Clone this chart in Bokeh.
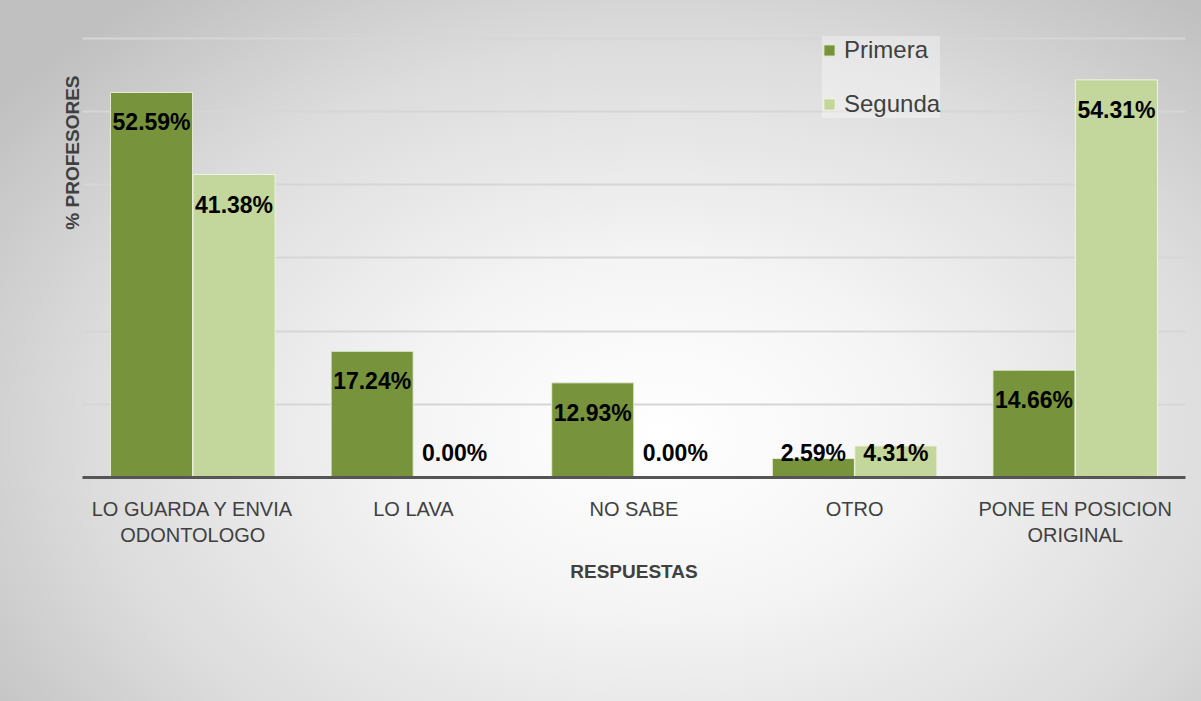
from bokeh.plotting import figure
from bokeh.models import (FactorRange, Range1d, SingleIntervalTicker, FixedTicker,
                          ColumnDataSource, Title)
from bokeh.transform import dodge
from bokeh.core.properties import value
from bokeh.embed import file_html
from bokeh.resources import INLINE

# ---- data ----
categories = ["LO GUARDA Y ENVIA\nODONTOLOGO", "LO LAVA", "NO SABE", "OTRO",
              "PONE EN POSICION\nORIGINAL"]
primera = [52.59, 17.24, 12.93, 2.59, 14.66]
segunda = [41.38, 0.00, 0.00, 4.31, 54.31]
series_names = ["Primera", "Segunda"]

# ---- style ----
FONT = "Liberation Sans"
C1 = "#77933C"
C2 = "#C3D69B"
TXT = "#404040"
Y_MAX = 63.1
FRAME_H = 462
PPU = FRAME_H / Y_MAX
BAR_W = 0.372
OFF = 0.187


def label_y(v):
    return max(v - 30 / PPU, 25 / PPU)


src = ColumnDataSource(dict(
    cat=categories,
    primera=primera,
    segunda=segunda,
    primera_txt=["%.2f%%" % v for v in primera],
    segunda_txt=["%.2f%%" % v for v in segunda],
    primera_y=[label_y(v) for v in primera],
    segunda_y=[label_y(v) for v in segunda],
))

p = figure(x_range=FactorRange(*categories), y_range=Range1d(0, Y_MAX),
           width=1201, height=701, output_backend="svg", toolbar_location=None,
           min_border_left=82, min_border_right=16, min_border_top=15,
           min_border_bottom=224)
p.styles = {"background": "radial-gradient(ellipse 68% 80% at 55% 62%, #ffffff 0%, #f5f5f5 30%, #dcdcdc 70%, #c0c0c0 100%)"}
p.border_fill_color = None
p.background_fill_color = None
p.outline_line_color = None

p.vbar(x=dodge("cat", -OFF, range=p.x_range), top="primera", width=BAR_W,
       source=src, fill_color=C1, line_color="#e6ecd8", line_width=1,
       legend_label=series_names[0])
p.vbar(x=dodge("cat", OFF, range=p.x_range), top="segunda", width=BAR_W,
       source=src, fill_color=C2, line_color="#eef3e2", line_width=1,
       legend_label=series_names[1])

p.text(x=dodge("cat", -OFF, range=p.x_range), y="primera_y", text="primera_txt",
       source=src, text_font=value(FONT), text_font_style="bold",
       text_font_size="23px", text_align="center", text_baseline="middle",
       text_color="black")
p.text(x=dodge("cat", OFF, range=p.x_range), y="segunda_y", text="segunda_txt",
       source=src, text_font=value(FONT), text_font_style="bold",
       text_font_size="23px", text_align="center", text_baseline="middle",
       text_color="black")

# grid
p.xgrid.grid_line_color = None
p.ygrid.ticker = SingleIntervalTicker(interval=10)
p.ygrid.grid_line_color = "#d6d6d6"
p.ygrid.grid_line_width = 2

# y axis (no ticks, reserves 46px); its title is a left-side title near the top
yax = p.yaxis[0]
yax.ticker = FixedTicker(ticks=[])
yax.axis_line_color = None
yax.major_tick_line_color = "#000000"
yax.major_tick_line_alpha = 0.01
yax.minor_tick_line_color = None
yax.major_tick_in = 0
yax.major_tick_out = 46
ytitle = Title(text="% PROFESORES", align="right", offset=60, standoff=0,
               vertical_align="bottom",
               text_font=FONT, text_font_style="bold", text_font_size="19px",
               text_color=TXT)
p.left = [ytitle, yax]

# x axis
p.xaxis.axis_label = "RESPUESTAS"
p.xaxis.axis_label_text_font = FONT
p.xaxis.axis_label_text_font_style = "bold"
p.xaxis.axis_label_text_font_size = "19px"
p.xaxis.axis_label_text_color = TXT
p.xaxis.axis_label_standoff = 12
p.xaxis.major_label_text_font = FONT
p.xaxis.major_label_text_font_size = "20px"
p.xaxis.major_label_text_color = TXT
p.xaxis.major_label_standoff = 14
p.xaxis.major_tick_line_color = None
p.xaxis.axis_line_color = "#555555"
p.xaxis.axis_line_width = 3

# legend
lg = p.legend[0]
lg.location = (740, 359)
lg.label_text_font = FONT
lg.label_text_font_size = "24px"
lg.label_text_color = TXT
lg.glyph_width = 14
lg.glyph_height = 14
lg.label_standoff = 8
lg.spacing = 26
lg.padding = 14
lg.border_line_color = None
lg.background_fill_color = "white"
lg.background_fill_alpha = 0.35

open("out.html", "w").write(file_html(p, INLINE))
